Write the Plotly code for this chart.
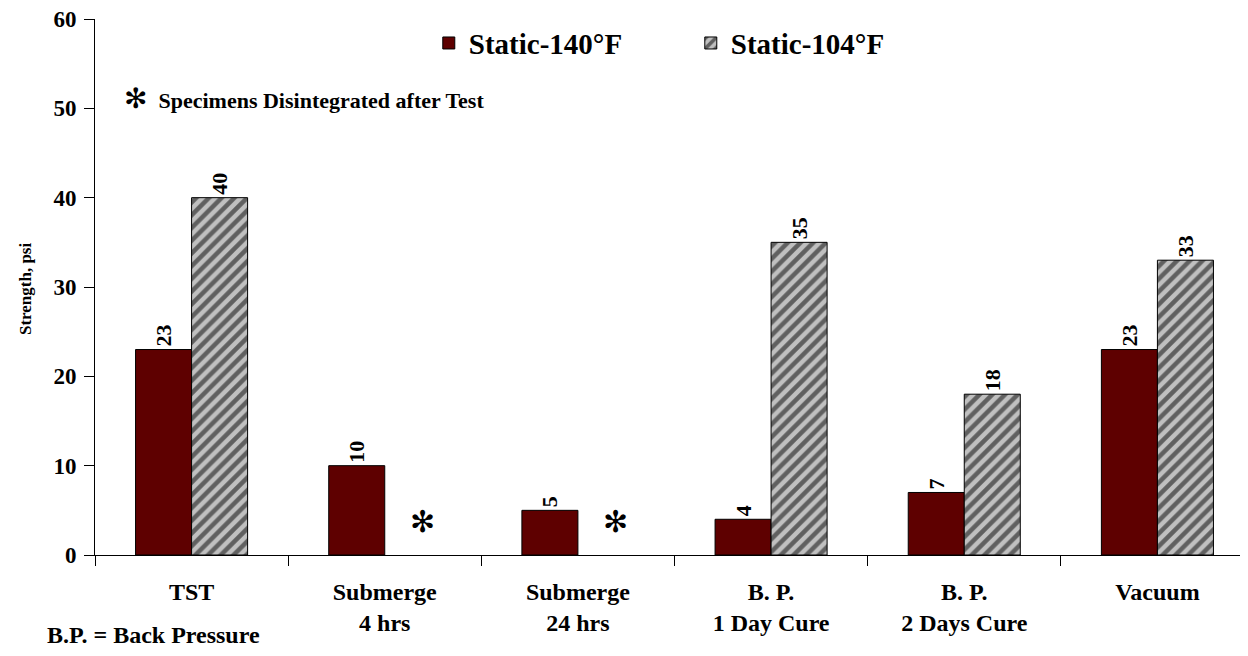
import plotly.graph_objects as go

categories = ["TST", "Submerge<br>4 hrs", "Submerge<br>24 hrs", "B. P.<br>1 Day Cure", "B. P.<br>2 Days Cure", "Vacuum"]
static_140 = [23, 10, 5, 4, 7, 23]
static_104 = [40, None, None, 35, 18, 33]
disintegrated_cats = ["Submerge<br>4 hrs", "Submerge<br>24 hrs"]
disintegrated_mark_level = [3.7, 3.7]
y_ticks = [0, 10, 20, 30, 40, 50, 60]

FONT = "Liberation Serif"

def f(size):
    return dict(family=FONT, size=size, color="black", weight="bold")

fig = go.Figure()
fig.add_trace(go.Bar(
    x=categories, y=static_140, name="Static-140°F",
    marker=dict(color="#5e0000", line=dict(color="black", width=1)),
    text=[str(v) for v in static_140], textposition="outside", textangle=-90,
    textfont=f(22), cliponaxis=False,
))
fig.add_trace(go.Bar(
    x=categories, y=static_104, name="Static-104°F",
    marker=dict(color="#c0c0c0", line=dict(color="black", width=1),
                pattern=dict(shape="/", bgcolor="#c0c0c0", fgcolor="black", size=9, solidity=0.5)),
    text=[str(v) if v is not None else "" for v in static_104], textposition="outside", textangle=-90,
    textfont=f(22), cliponaxis=False,
))

for c, lvl in zip(disintegrated_cats, disintegrated_mark_level):
    fig.add_annotation(x=c, y=lvl, xref="x", yref="y", text="✻", showarrow=False,
                       xshift=38, font=dict(family="DejaVu Sans", size=30, color="black"))

fig.add_annotation(x=0.023, y=0.852, xref="paper", yref="paper", xanchor="left", yanchor="middle",
                   text="<span style='font-family:DejaVu Sans;font-size:28px'>✻</span>  Specimens Disintegrated after Test",
                   showarrow=False, font=f(22))
fig.add_annotation(x=-0.043, y=-0.150, xref="paper", yref="paper", xanchor="left", yanchor="middle",
                   text="B.P. = Back Pressure", showarrow=False, font=f(24))
fig.add_annotation(x=-0.060, y=0.497, xref="paper", yref="paper", xanchor="center", yanchor="middle",
                   text="Strength, psi", textangle=-90, showarrow=False, font=f(17))

fig.update_layout(
    width=1248, height=656,
    margin=dict(l=87, r=2, t=11, b=109, autoexpand=False),
    paper_bgcolor="white", plot_bgcolor="white",
    barmode="group", bargap=0.42, bargroupgap=0,
    font=f(22),
    showlegend=True,
    legend=dict(orientation="h", x=0.288, y=0.955, xanchor="left", yanchor="middle",
                font=f(29), itemwidth=30,
                bgcolor="rgba(0,0,0,0)", entrywidthmode="pixels", entrywidth=217),
    xaxis=dict(showline=True, linecolor="black", linewidth=1, ticks="outside", tickson="boundaries",
               ticklen=10, tickcolor="black", showgrid=False, automargin=False,
               ticklabelstandoff=15, tickfont=f(24)),
    yaxis=dict(range=[0, 60], tickvals=y_ticks, showline=True, linecolor="black", linewidth=1,
               ticks="outside", ticklen=10, tickcolor="black", showgrid=False, zeroline=False,
               automargin=False, ticklabelstandoff=3, ticklabeloverflow="allow", tickfont=f(23)),
)
fig.write_html("out.html")
